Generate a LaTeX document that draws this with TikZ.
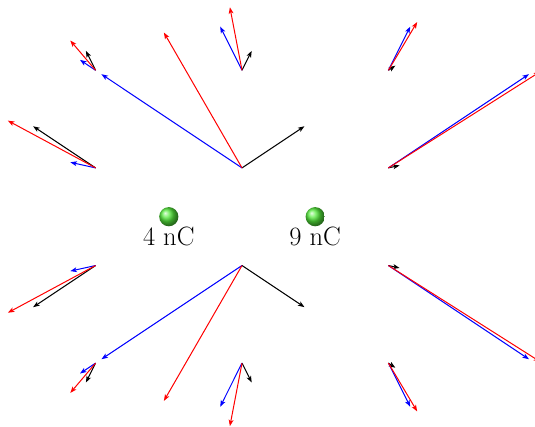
\documentclass[tikz,border=0pt]{standalone}
\usetikzlibrary{arrows.meta,calc}
\definecolor{ballgreen}{RGB}{85,235,60}
\begin{document}
\begin{tikzpicture}[x=24.4pt,y=24.4pt,
  vec/.style={line width=1pt,-{Stealth[length=6.5pt,width=4.8pt,inset=1.6pt]}},
  efour/.style={vec,black},
  enine/.style={vec,blue},
  etot/.style={vec,red},
  charge/.style={circle,inner sep=0pt,minimum size=19.2pt,shading=ball,ball color=ballgreen},
  lab/.style={font=\fontsize{26.5}{31}\selectfont,inner sep=0pt}]
\path[use as bounding box] (-242pt,-209.3pt) rectangle (293pt,216.7pt);
\node[charge] (q1) at (-3,0) {};
\node[charge] (q2) at (3,0) {};
\node[lab,anchor=base] (l1) at ([yshift=-28.8pt]q1.center) {4 nC};
\node[lab,anchor=base] (l2) at ([yshift=-28.8pt]q2.center) {9 nC};
\foreach \px/\py [count=\i] in {0/2,-6/2,-6/6,0/6,6/6,6/2,0/-2,-6/-2,-6/-6,0/-6,6/-6,6/-2}{
  \pgfmathsetmacro\dxa{\px+3}
  \pgfmathsetmacro\dxb{\px-3}
  \pgfmathsetmacro\ra{(\dxa*\dxa+\py*\py)^1.5}
  \pgfmathsetmacro\rb{(\dxb*\dxb+\py*\py)^1.5}
  \pgfmathsetmacro\exa{40*\dxa/\ra}
  \pgfmathsetmacro\eya{40*\py/\ra}
  \pgfmathsetmacro\exb{90*\dxb/\rb}
  \pgfmathsetmacro\eyb{90*\py/\rb}
  \pgfmathsetmacro\ext{\exa+\exb}
  \pgfmathsetmacro\eyt{\eya+\eyb}
  \coordinate (p\i) at (\px,\py);
  \coordinate (a\i) at ($(p\i)+(\exa,\eya)$);
  \coordinate (b\i) at ($(p\i)+(\exb,\eyb)$);
  \coordinate (t\i) at ($(p\i)+(\ext,\eyt)$);
  \draw[efour] (p\i) -- (a\i);
  \draw[enine] (p\i) -- (b\i);
  \draw[etot] (p\i) -- (t\i);
}
\end{tikzpicture}
\end{document}
